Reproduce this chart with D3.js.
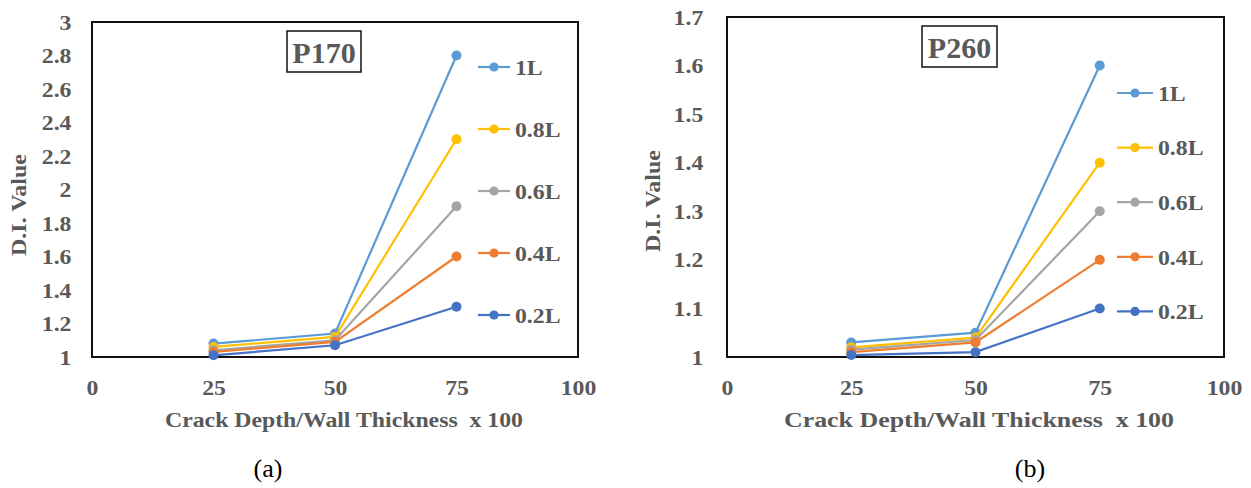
<!DOCTYPE html>
<html>
<head>
<meta charset="utf-8">
<script src="https://cdn.jsdelivr.net/npm/d3@7"></script>
<style>
  body { margin: 0; background: #fff; }
  svg text { font-family: "Liberation Serif", "Times New Roman", serif; }
</style>
</head>
<body>
<svg id="chart" width="1251" height="488"></svg>
<script>
// crack depth / wall thickness x 100
var depths = [25, 50, 75];
var seriesNames = ["1L", "0.8L", "0.6L", "0.4L", "0.2L"];
var seriesColors = ["#5b9bd5", "#ffc000", "#a5a5a5", "#ed7d31", "#4472c4"];

// P170 D.I. values, one list per series
var p170_1L  = [1.08, 1.14, 2.8];
var p170_08L = [1.06, 1.12, 2.3];
var p170_06L = [1.04, 1.10, 1.9];
var p170_04L = [1.03, 1.09, 1.6];
var p170_02L = [1.01, 1.07, 1.3];

// P260 D.I. values
var p260_1L  = [1.03, 1.05, 1.6];
var p260_08L = [1.02, 1.04, 1.4];
var p260_06L = [1.015, 1.035, 1.3];
var p260_04L = [1.01, 1.03, 1.2];
var p260_02L = [1.004, 1.01, 1.1];

var xTicks = [0, 25, 50, 75, 100];
var yTicksA = [1, 1.2, 1.4, 1.6, 1.8, 2, 2.2, 2.4, 2.6, 2.8, 3];
var yTicksB = [1, 1.1, 1.2, 1.3, 1.4, 1.5, 1.6, 1.7];

var svg = d3.select("#chart");
var grey = "#595959";
var fs = 22, stretch = 1.08;

function drawPanel(opt) {
  var x = d3.scaleLinear().domain([0, 100]).range([opt.left, opt.right]),
      y = d3.scaleLinear().domain(opt.yDomain).range([opt.bottom, opt.top]);

  var g = svg.append("g");

  // axes (labels only, Excel style)
  var yAxis = d3.axisLeft(y).tickValues(opt.yTicks).tickSize(0).tickPadding(opt.yPad)
      .tickFormat(function(d) { return d3.format("~g")(d); });
  var gy = g.append("g").attr("transform", "translate(" + opt.left + ",0)").call(yAxis);
  gy.select(".domain").remove();
  gy.selectAll("text")
      .attr("fill", grey)
      .attr("font-size", fs)
      .attr("font-weight", "bold")
      .attr("font-family", "Liberation Serif")
      .attr("transform", "scale(" + stretch + ",1)");

  var xAxis = d3.axisBottom(x).tickValues(xTicks).tickSize(0);
  var gx = g.append("g").attr("transform", "translate(0," + opt.bottom + ")").call(xAxis);
  gx.select(".domain").remove();
  gx.selectAll("text")
      .attr("y", 38)
      .attr("dy", 0)
      .attr("fill", grey)
      .attr("font-size", fs)
      .attr("font-weight", "bold")
      .attr("font-family", "Liberation Serif")
      .attr("transform", "scale(" + stretch + ",1)");

  // plot box
  g.append("rect")
      .attr("x", opt.left)
      .attr("y", opt.top)
      .attr("width", opt.right - opt.left)
      .attr("height", opt.bottom - opt.top)
      .attr("fill", "none")
      .attr("stroke", "#111")
      .attr("stroke-width", 2);

  // series
  var line = d3.line()
      .x(function(d, i) { return x(depths[i]); })
      .y(function(d) { return y(d); });

  opt.series.forEach(function(vals, k) {
    g.append("path")
        .datum(vals)
        .attr("fill", "none")
        .attr("stroke", seriesColors[k])
        .attr("stroke-width", 2.2)
        .attr("d", line);
    g.selectAll(null)
        .data(vals)
        .enter().append("circle")
        .attr("cx", function(d, i) { return x(depths[i]); })
        .attr("cy", function(d) { return y(d); })
        .attr("r", 5)
        .attr("fill", seriesColors[k]);
  });

  // legend
  var legend = g.selectAll(".legend")
      .data(seriesNames)
      .enter().append("g")
      .attr("class", "legend")
      .attr("transform", function(d, i) {
        return "translate(" + opt.legendX + "," + (opt.legendY + i * opt.legendStep) + ")";
      });
  legend.append("line")
      .attr("x1", 0).attr("x2", opt.legendLen)
      .attr("stroke", function(d, i) { return seriesColors[i]; })
      .attr("stroke-width", 2.2);
  legend.append("circle")
      .attr("cx", opt.legendLen / 2).attr("r", 4.6)
      .attr("fill", function(d, i) { return seriesColors[i]; });
  legend.append("text")
      .attr("transform", "translate(" + (opt.legendLen + 5) + ",0) scale(" + stretch + ",1)")
      .attr("dy", "0.35em")
      .attr("fill", grey)
      .attr("font-size", fs)
      .attr("font-weight", "bold")
      .text(function(d) { return d; });

  // title box
  g.append("rect")
      .attr("x", opt.titleBox[0])
      .attr("y", opt.titleBox[1])
      .attr("width", opt.titleBox[2])
      .attr("height", opt.titleBox[3])
      .attr("fill", "#fff")
      .attr("stroke", "#111")
      .attr("stroke-width", 1.5);
  g.append("text")
      .attr("x", opt.titleBox[0] + opt.titleBox[2] / 2)
      .attr("y", opt.titleBox[1] + 32)
      .attr("text-anchor", "middle")
      .attr("fill", grey)
      .attr("font-size", 30)
      .attr("font-weight", "bold")
      .text(opt.title);

  // axis titles
  g.append("text")
      .attr("x", opt.xTitle[0] - opt.xTitle[1] / 2)
      .attr("y", 427)
      .attr("textLength", opt.xTitle[1])
      .attr("lengthAdjust", "spacingAndGlyphs")
      .attr("fill", grey)
      .attr("font-size", fs)
      .attr("font-weight", "bold")
      .attr("xml:space", "preserve")
      .text("Crack Depth/Wall Thickness  x 100");

  g.append("text")
      .attr("transform", "translate(" + opt.yTitleX + "," + opt.yTitleY + ") rotate(-90) scale(1.09,1)")
      .attr("text-anchor", "middle")
      .attr("dy", "0.35em")
      .attr("fill", grey)
      .attr("font-size", fs)
      .attr("font-weight", "bold")
      .text("D.I. Value");

  // caption
  g.append("text")
      .attr("x", opt.captionX)
      .attr("y", 477)
      .attr("text-anchor", "middle")
      .attr("fill", "#000")
      .attr("font-size", 26)
      .text(opt.caption);
}

drawPanel({
  left: 92, right: 578, top: 22, bottom: 357, yPad: 19,
  yDomain: [1, 3], yTicks: yTicksA,
  series: [p170_1L, p170_08L, p170_06L, p170_04L, p170_02L],
  legendX: 478, legendY: 67, legendStep: 62, legendLen: 32,
  title: "P170", titleBox: [287, 31, 74, 41],
  xTitle: [344, 358],
  yTitleX: 18, yTitleY: 205,
  caption: "(a)", captionX: 268
});

drawPanel({
  left: 727, right: 1224, top: 17, bottom: 357, yPad: 22,
  yDomain: [1, 1.7], yTicks: yTicksB,
  series: [p260_1L, p260_08L, p260_06L, p260_04L, p260_02L],
  legendX: 1117, legendY: 93, legendStep: 54.6, legendLen: 36,
  title: "P260", titleBox: [922, 26, 75, 41],
  xTitle: [979, 390],
  yTitleX: 652, yTitleY: 201,
  caption: "(b)", captionX: 1030
});
</script>
</body>
</html>
